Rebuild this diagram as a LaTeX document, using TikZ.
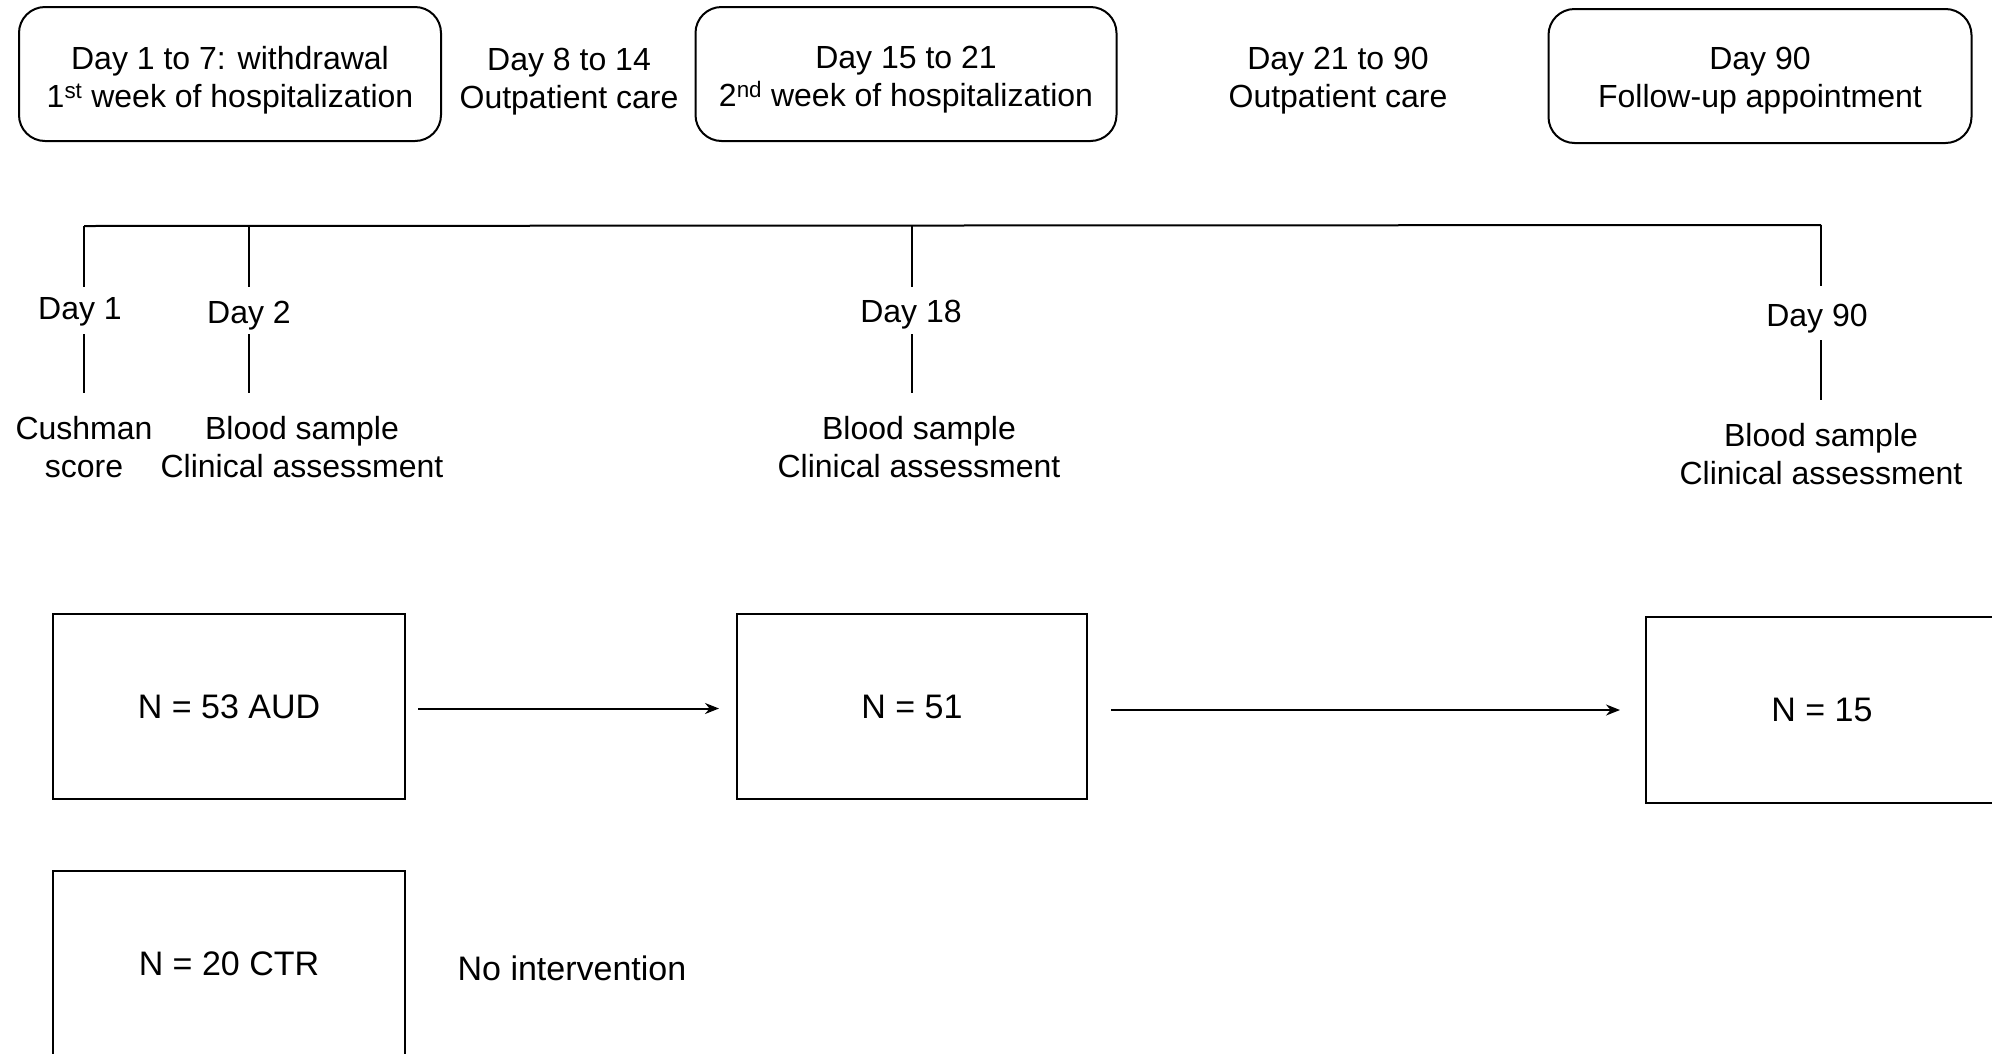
\documentclass[tikz,border=0pt]{standalone}
\usepackage{fontspec}
\setmainfont{Liberation Sans}
\usetikzlibrary{arrows.meta}
\tikzset{
  every node/.style={font=\fontsize{32}{38}\selectfont, align=center},
  phasebox/.style={draw, line width=2pt, rounded corners=26pt, inner sep=0pt},
  groupbox/.style={draw, line width=2pt, inner sep=0pt, font=\fontsize{34}{40}\selectfont},
  plain/.style={inner sep=0pt},
  tick/.style={line width=2pt},
  flow/.style={line width=2pt, -{Stealth[length=14pt,width=11pt]}}
}
\begin{document}
\begin{tikzpicture}[x=1pt,y=-1pt]
\useasboundingbox (0,0) rectangle (1992,1053);
\begin{scope}
\clip (0,0) rectangle (1992,1053);
% top phase row
\node[phasebox, minimum width=422pt, minimum height=134pt] (p1) at (230,74) {};
\node[plain] (p1t) at ([yshift=-6pt]p1.center) {Day 1 to 7: withdrawal\\1\textsuperscript{st} week of hospitalization};
\node[plain] (p2) at (569,82) {Day 8 to 14\\Outpatient care};
\node[phasebox, minimum width=421pt, minimum height=134pt] (p3) at (906,74) {};
\node[plain] (p3t) at ([yshift=-6pt]p3.center) {Day 15 to 21\\2\textsuperscript{nd} week of hospitalization};
\node[plain] (p4) at (1338,81) {Day 21 to 90\\Outpatient care};
\node[phasebox, minimum width=423pt, minimum height=134pt] (p5) at (1760,76) {};
\node[plain] (p5t) at ([yshift=-5pt]p5.center) {Day 90\\Follow-up appointment};

% timeline
\coordinate (t1) at (84,226);
\coordinate (t2) at (249,226);
\coordinate (t3) at (912,226);
\coordinate (t4) at (1821,225);
\draw[tick] (t1) -- (t4);
\coordinate (u1) at (84,287);
\coordinate (u2) at (249,287);
\coordinate (u3) at (912,287);
\coordinate (u4) at (1821,286);
\draw[tick] (t1) -- (u1);
\draw[tick] (t2) -- (u2);
\draw[tick] (t3) -- (u3);
\draw[tick] (t4) -- (u4);

\node[plain] (d1) at (80,312) {Day 1};
\node[plain] (d2) at (249,316) {Day 2};
\node[plain] (d3) at (911,315) {Day 18};
\node[plain] (d4) at (1817,319) {Day 90};

\coordinate (l1a) at (84,334);  \coordinate (l1b) at (84,393);
\coordinate (l2a) at (249,334); \coordinate (l2b) at (249,393);
\coordinate (l3a) at (912,334); \coordinate (l3b) at (912,393);
\coordinate (l4a) at (1821,340); \coordinate (l4b) at (1821,400);
\draw[tick] (l1a) -- (l1b);
\draw[tick] (l2a) -- (l2b);
\draw[tick] (l3a) -- (l3b);
\draw[tick] (l4a) -- (l4b);

\node[plain] (e1) at (84,447) {Cushman\\score};
\node[plain] (e2) at (302,447) {Blood sample\\Clinical assessment};
\node[plain] (e3) at (919,447) {Blood sample\\Clinical assessment};
\node[plain] (e4) at (1821,454) {Blood sample\\Clinical assessment};

% groups
\node[groupbox, minimum width=352pt, minimum height=185pt] (aud) at (229,706.5) {N = 53 AUD};
\node[groupbox, minimum width=350pt, minimum height=185pt] (n51) at (912,706.5) {N = 51};
\node[groupbox, minimum width=352pt, minimum height=186pt] (n15) at (1822,710) {N = 15};
\node[groupbox, minimum width=352pt, minimum height=186pt] (ctr) at (229,964) {N = 20 CTR};
\node[plain, font=\fontsize{34}{40}\selectfont] (noi) at (572,968) {No intervention};

\draw[flow, shorten <=12pt, shorten >=17pt] ([yshift=-2pt]aud.east) -- ([yshift=-2pt]n51.west);
\draw[flow, shorten <=23pt, shorten >=25pt] ([yshift=-3.5pt]n51.east) -- (n15.west);
\end{scope}
\end{tikzpicture}
\end{document}
